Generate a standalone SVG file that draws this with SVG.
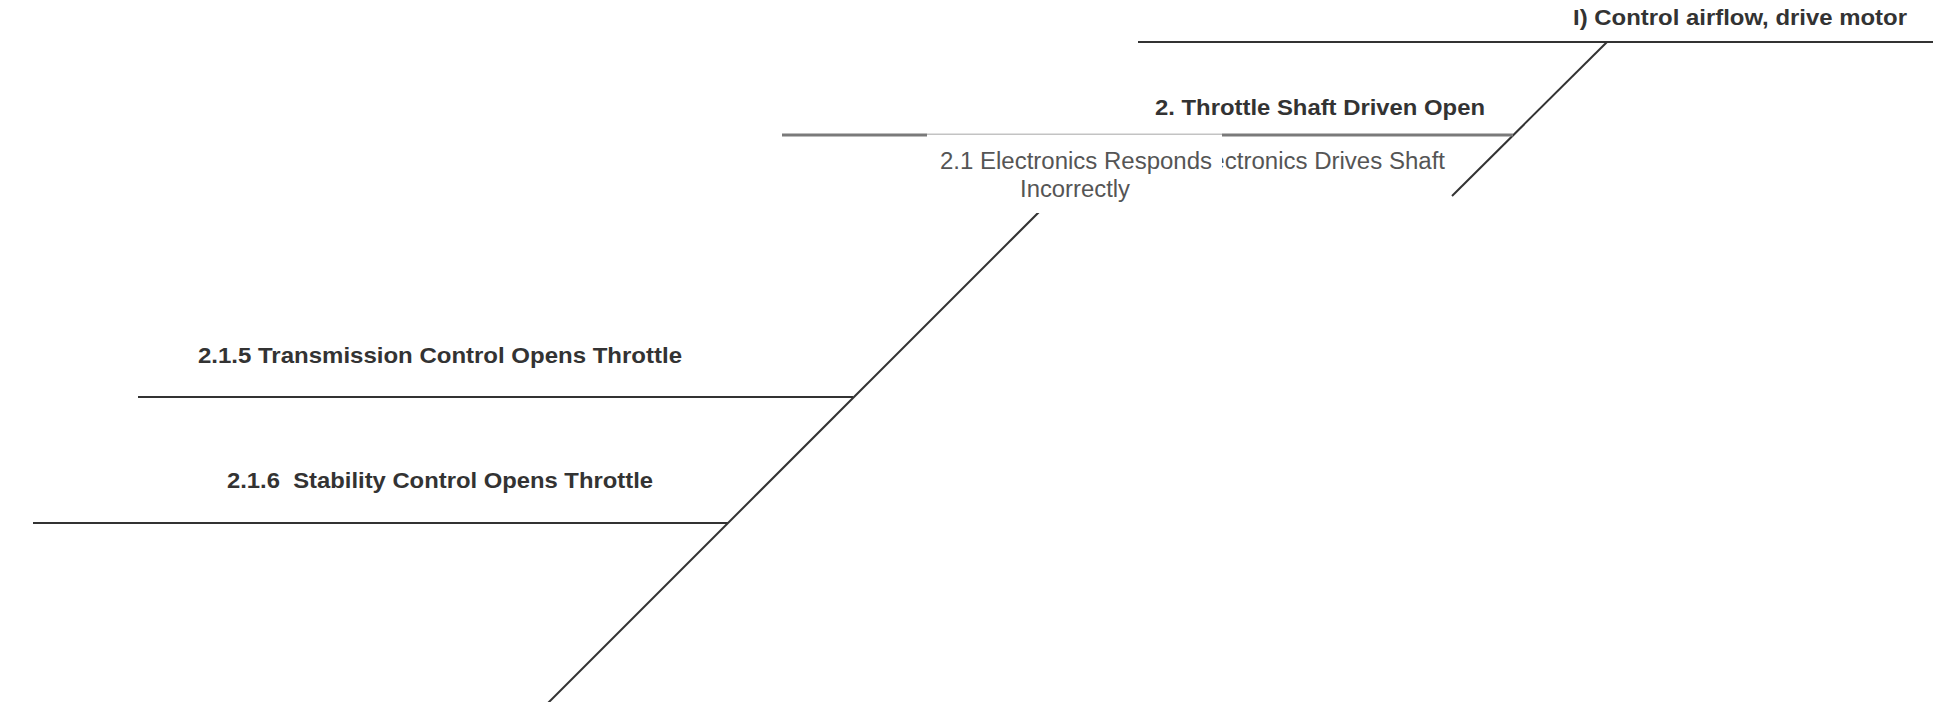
<svg xmlns="http://www.w3.org/2000/svg" width="1933" height="702" viewBox="0 0 1933 702">
  <style>
    .bg { fill: #ffffff; }
    .ln { stroke: #333333; stroke-width: 2; fill: none; }
    .ln2 { stroke: #7a7a7a; stroke-width: 3; fill: none; }
    .hd { font-family: "Liberation Sans", Arial, sans-serif; font-weight: bold; font-size: 21.5px; fill: #333333; white-space: pre; }
    .rg { font-family: "Liberation Sans", Arial, sans-serif; font-size: 23px; fill: #555555; white-space: pre; }
  </style>
  <rect class="bg" x="0" y="0" width="1933" height="702"/>
  <g id="connectors">
    <line class="ln" x1="1138" y1="42" x2="1933" y2="42"/>
    <line class="ln" x1="1607" y1="42" x2="1452" y2="196"/>
    <line class="ln2" x1="782" y1="135" x2="1513" y2="135"/>
    <line class="ln" x1="1114" y1="137" x2="548" y2="703"/>
    <line class="ln" x1="138" y1="397" x2="853" y2="397"/>
    <line class="ln" x1="33" y1="523" x2="728" y2="523"/>
  </g>
  <g id="node-1">
    <text class="hd" x="1573" y="25" textLength="334" lengthAdjust="spacingAndGlyphs">I) Control airflow, drive motor</text>
  </g>
  <g id="node-2">
    <text class="hd" x="1155" y="115" textLength="330" lengthAdjust="spacingAndGlyphs">2. Throttle Shaft Driven Open</text>
  </g>
  <g id="node-2-1-5">
    <text class="hd" x="198" y="363" textLength="484" lengthAdjust="spacingAndGlyphs">2.1.5 Transmission Control Opens Throttle</text>
  </g>
  <g id="node-2-1-6">
    <text class="hd" x="227" y="488" textLength="426" lengthAdjust="spacingAndGlyphs">2.1.6  Stability Control Opens Throttle</text>
  </g>
  <g id="node-2-2">
    <text class="rg" x="1190" y="169" textLength="255" lengthAdjust="spacingAndGlyphs">Electronics Drives Shaft</text>
  </g>
  <g id="node-2-1">
    <rect x="927" y="133" width="295" height="2" fill="#ffffff" fill-opacity="0.55"/>
    <rect x="927" y="135" width="295" height="78" fill="#ffffff"/>
    <text class="rg" x="940" y="169" textLength="272" lengthAdjust="spacingAndGlyphs">2.1 Electronics Responds</text>
    <text class="rg" x="1020" y="197" textLength="110" lengthAdjust="spacingAndGlyphs">Incorrectly</text>
  </g>
</svg>
